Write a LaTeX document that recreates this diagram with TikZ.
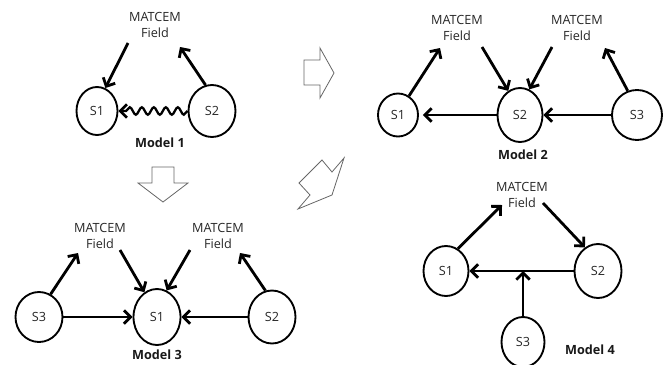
\documentclass[tikz,border=0pt]{standalone}
\usepackage{fontspec}
\setmainfont{Open Sans}
\usetikzlibrary{arrows.meta,decorations.pathmorphing,shapes.geometric}
\begin{document}
\begin{tikzpicture}[x=0.75pt,y=-0.75pt,
  state/.style={ellipse,draw,line width=1.4pt,inner sep=0pt,
    font=\fontsize{9.5}{11}\selectfont,text=black!85},
  sz/.style 2 args={minimum width={#1*0.75pt},minimum height={#2*0.75pt}},
  field/.style={align=center,inner sep=0pt,font=\fontsize{9.5}{12.5}\selectfont,text=black!85},
  caption/.style={inner sep=0pt,font=\fontsize{9.5}{11}\selectfont\bfseries,text=black!90},
  arr/.style={line width=2.1pt,-{Straight Barb[length=5pt,width=10pt,line width=2.1pt]}},
  wavy/.style={line width=1.7pt,decorate,
    decoration={snake,amplitude=2.8pt,segment length=9pt,post length=5pt},
    -{Straight Barb[length=5pt,width=10pt,line width=1.9pt]}},
  block/.style={draw=black!60,line width=0.6pt,line join=miter}]
\useasboundingbox (0,0) rectangle (663,364);

% ---------- Model 1 ----------
\node[field] (m1f) at (155,25) {MATCEM\\Field};
\node[state,sz={41}{48}] (m1s1) at (97,111) {S1};
\node[state,sz={47}{52}] (m1s2) at (212,111) {S2};
\coordinate (m1a) at (128,43);
\coordinate (m1b) at (180,47);
\draw[arr] (m1a) -- (m1s1.70);
\draw[arr] (m1s2.104) -- (m1b);
\draw[wavy] (m1s2.west) -- (m1s1.east);
\node[caption] (m1c) at (160,143) {Model 1};

% ---------- Model 2 ----------
\node[field] (m2f1) at (457,28) {MATCEM\\Field};
\node[field] (m2f2) at (577,28) {MATCEM\\Field};
\node[state,sz={40}{43}] (m2s1) at (398,115) {S1};
\node[state,sz={45}{54}] (m2s2) at (520,115) {S2};
\node[state,sz={50}{50}] (m2s3) at (637,115) {S3};
\coordinate (m2a) at (440,48);
\coordinate (m2b) at (482,47);
\coordinate (m2c) at (552,47);
\coordinate (m2d) at (605,48);
\draw[arr] (m2s1.60) -- (m2a);
\draw[arr] (m2b) -- (m2s2.116);
\draw[arr] (m2c) -- (m2s2.70);
\draw[arr] (m2s3.111) -- (m2d);
\draw[arr,shorten >=3pt] (m2s2.west) -- (m2s1.east);
\draw[arr] (m2s3.west) -- (m2s2.east);
\node[caption] (m2c) at (523,155) {Model 2};

% ---------- Model 3 ----------
\node[field] (m3f1) at (100,236) {MATCEM\\Field};
\node[field] (m3f2) at (218,236) {MATCEM\\Field};
\node[state,sz={47}{50}] (m3s3) at (39,317) {S3};
\node[state,sz={47}{56}] (m3s1) at (157,317) {S1};
\node[state,sz={47}{53}] (m3s2) at (272,317) {S2};
\coordinate (m3a) at (78,253);
\coordinate (m3b) at (120,250);
\coordinate (m3c) at (190,250);
\coordinate (m3d) at (240,253);
\draw[arr] (m3s3.63) -- (m3a);
\draw[arr] (m3b) -- (m3s1.117);
\draw[arr] (m3c) -- (m3s1.70);
\draw[arr] (m3s2.104) -- (m3d);
\draw[arr] (m3s3.east) -- (m3s1.west);
\draw[arr] (m3s2.west) -- (m3s1.east);
\node[caption] (m3cap) at (157,355) {Model 3};

% ---------- Model 4 ----------
\node[field] (m4f) at (522,195) {MATCEM\\Field};
\node[state,sz={45}{50}] (m4s1) at (446,271) {S1};
\node[state,sz={47}{54}] (m4s2) at (598,271) {S2};
\node[state,sz={43}{50}] (m4s3) at (523,342) {S3};
\coordinate (m4a) at (502,205);
\coordinate (m4b) at (543,203);
\coordinate (m4j) at (523,271);
\draw[arr] (m4s1.62) -- (m4a);
\draw[arr] (m4b) -- (m4s2.119);
\draw[arr] (m4s2.west) -- (m4s1.east);
\draw[arr] (m4s3.north) -- (m4j);
\node[caption] (m4cap) at (590,350) {Model 4};

% ---------- transitions between models ----------
\draw[block] (304,60) -- (320,60) -- (320,48) -- (334,73) -- (320,98)
  -- (320,85) -- (304,85) -- cycle;
\draw[block] (152,167) -- (174,167) -- (174,183) -- (188,183) -- (163,202)
  -- (138,183) -- (152,183) -- cycle;
\draw[block] (298,209) -- (310,195) -- (299,183) -- (322,160) -- (332,172)
  -- (344,158) -- (332,195) -- cycle;
\end{tikzpicture}
\end{document}
